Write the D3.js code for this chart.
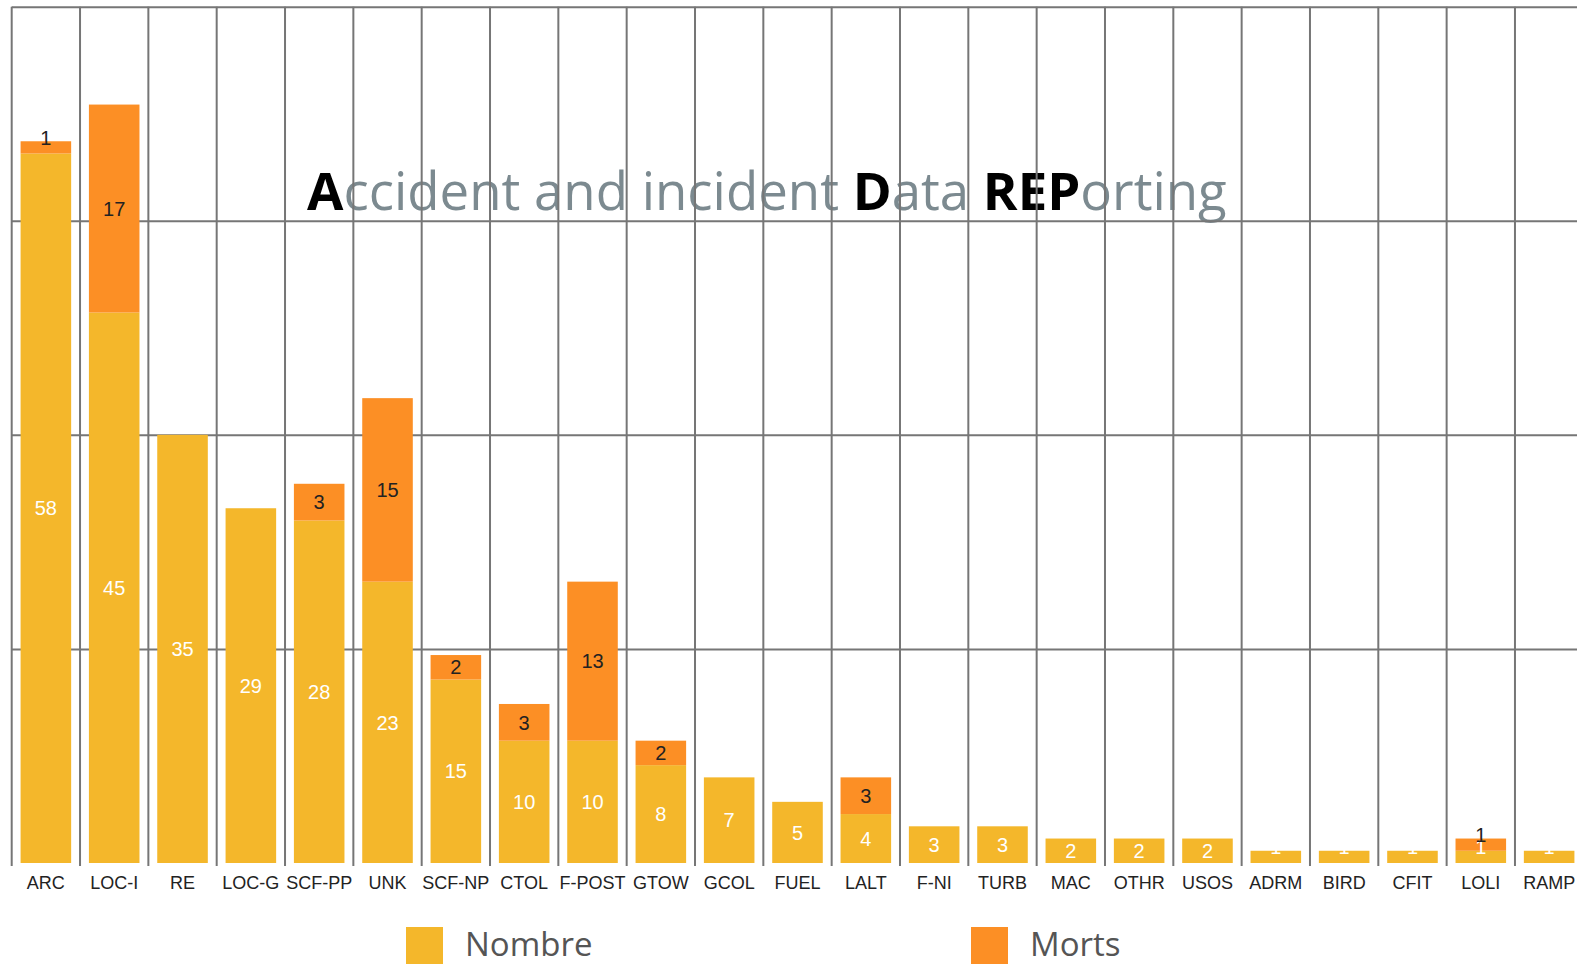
<!DOCTYPE html>
<html>
<head>
<meta charset="utf-8">
<script src="https://cdn.jsdelivr.net/npm/d3@7"></script>
<style>
  body { margin: 0; background: #fff; }
  .grid line { stroke: #767676; stroke-width: 2; }
  .grid .domain { display: none; }
  .x.axis .domain { display: none; }
  .x.axis text { font-family: "Liberation Sans", Arial, sans-serif; font-size: 18px; fill: #222; }
  .lbl { font-family: "Liberation Sans", Arial, sans-serif; font-size: 20px; text-anchor: middle; }
</style>
</head>
<body>
<script>
/*** DATA ***/
let categories = ["ARC", "LOC-I", "RE", "LOC-G", "SCF-PP", "UNK", "SCF-NP", "CTOL", "F-POST", "GTOW", "GCOL", "FUEL",
  "LALT", "F-NI", "TURB", "MAC", "OTHR", "USOS", "ADRM", "BIRD", "CFIT", "LOLI", "RAMP"];
let nombre = [58, 45, 35, 29, 28, 23, 15, 10, 10, 8, 7, 5, 4, 3, 3, 2, 2, 2, 1, 1, 1, 1, 1];
let morts = [1, 17, 0, 0, 3, 15, 2, 3, 13, 2, 0, 0, 3, 0, 0, 0, 0, 0, 0, 0, 0, 1, 0];
let yTicks = [17.5, 35, 52.5, 70];
let seriesNames = ["Nombre", "Morts"];

/*** GRAPH ***/
let W = 1577, H = 964;
let plot = { left: 11.7, right: 1583.3, top: 6.7, bottom: 863 };

let color = d3.scaleOrdinal().domain(["nombre", "morts"]).range(["#f4b72b", "#fc8f25"]);
let textColor = { nombre: "#fff", morts: "#222" };

/* table pour d3.stack */
let table = categories.map((c, i) => ({ cat: c, nombre: nombre[i], morts: morts[i] }));
let stacked = d3.stack().keys(["nombre", "morts"])(table);

let x = d3.scaleBand()
  .domain(categories)
  .range([plot.left, plot.right])
  .paddingInner(0.26)
  .paddingOuter(0.13);

let y = d3.scaleLinear()
  .domain([0, 70])
  .range([plot.bottom, plot.top]);

let svg = d3.select("body").append("svg")
  .attr("width", W)
  .attr("height", H);

/* titre (derrière la grille) */
let title = svg.append("text")
  .attr("x", 307)
  .attr("y", 210)
  .style("font-family", "'Open Sans', sans-serif")
  .style("font-size", "50px");
[["A", true], ["ccident and incident ", false], ["D", true], ["ata ", false], ["REP", true], ["orting", false]]
  .forEach(p => {
    title.append("tspan")
      .attr("fill", p[1] ? "#000" : "#7c8a90")
      .attr("font-weight", p[1] ? "bold" : "normal")
      .text(p[0]);
  });
/* ajuster la largeur du titre */
let tw = title.node().getComputedTextLength();
let fs = Math.max(44, Math.min(56, 50 * 920 / tw));
title.style("font-size", fs + "px");

/* grille horizontale */
svg.append("g")
  .attr("class", "grid")
  .attr("transform", "translate(" + plot.left + ",0)")
  .call(d3.axisLeft(y).tickValues(yTicks).tickSize(-(W + 20)).tickFormat(""));

/* grille verticale */
let half = x.step() * x.paddingInner() / 2;
let bounds = categories.map(c => x(c) - half).concat([plot.right]);
svg.append("g")
  .attr("class", "grid")
  .selectAll("line")
  .data(bounds)
  .enter().append("line")
  .attr("x1", d => d)
  .attr("x2", d => d)
  .attr("y1", y(70))
  .attr("y2", plot.bottom + 3);

/* barres */
let layer = svg.selectAll(".layer")
  .data(stacked)
  .enter().append("g")
  .attr("class", "layer")
  .attr("fill", d => color(d.key));

layer.selectAll("rect")
  .data(d => d)
  .enter().append("rect")
  .attr("x", d => x(d.data.cat))
  .attr("width", x.bandwidth())
  .attr("y", d => y(d[1]))
  .attr("height", d => y(d[0]) - y(d[1]));

/* valeurs dans les barres */
stacked.forEach(s => {
  svg.append("g")
    .selectAll("text")
    .data(s.filter(d => d[1] - d[0] > 0))
    .enter().append("text")
    .attr("class", "lbl")
    .attr("fill", textColor[s.key])
    .attr("x", d => x(d.data.cat) + x.bandwidth() / 2)
    .attr("y", d => {
      let h = y(d[0]) - y(d[1]);
      let mid = (y(d[0]) + y(d[1])) / 2;
      return h < 18 ? mid - 10 : mid;
    })
    .attr("dy", "0.36em")
    .text(d => d[1] - d[0]);
});

/* abscisses */
svg.append("g")
  .attr("class", "x axis")
  .attr("transform", "translate(0," + plot.bottom + ")")
  .call(d3.axisBottom(x).tickSize(0).tickPadding(13));

/* légende */
let legend = svg.selectAll(".legend")
  .data(["nombre", "morts"])
  .enter().append("g")
  .attr("class", "legend")
  .attr("transform", (d, i) => "translate(" + (i === 0 ? 406 : 971) + ",927)");

legend.append("rect")
  .attr("width", 37)
  .attr("height", 37)
  .attr("fill", d => color(d));

legend.append("text")
  .attr("x", 59)
  .attr("y", 29)
  .style("font-family", "'Open Sans', sans-serif")
  .style("font-size", "33px")
  .attr("fill", "#555")
  .text((d, i) => seriesNames[i]);
</script>
</body>
</html>
